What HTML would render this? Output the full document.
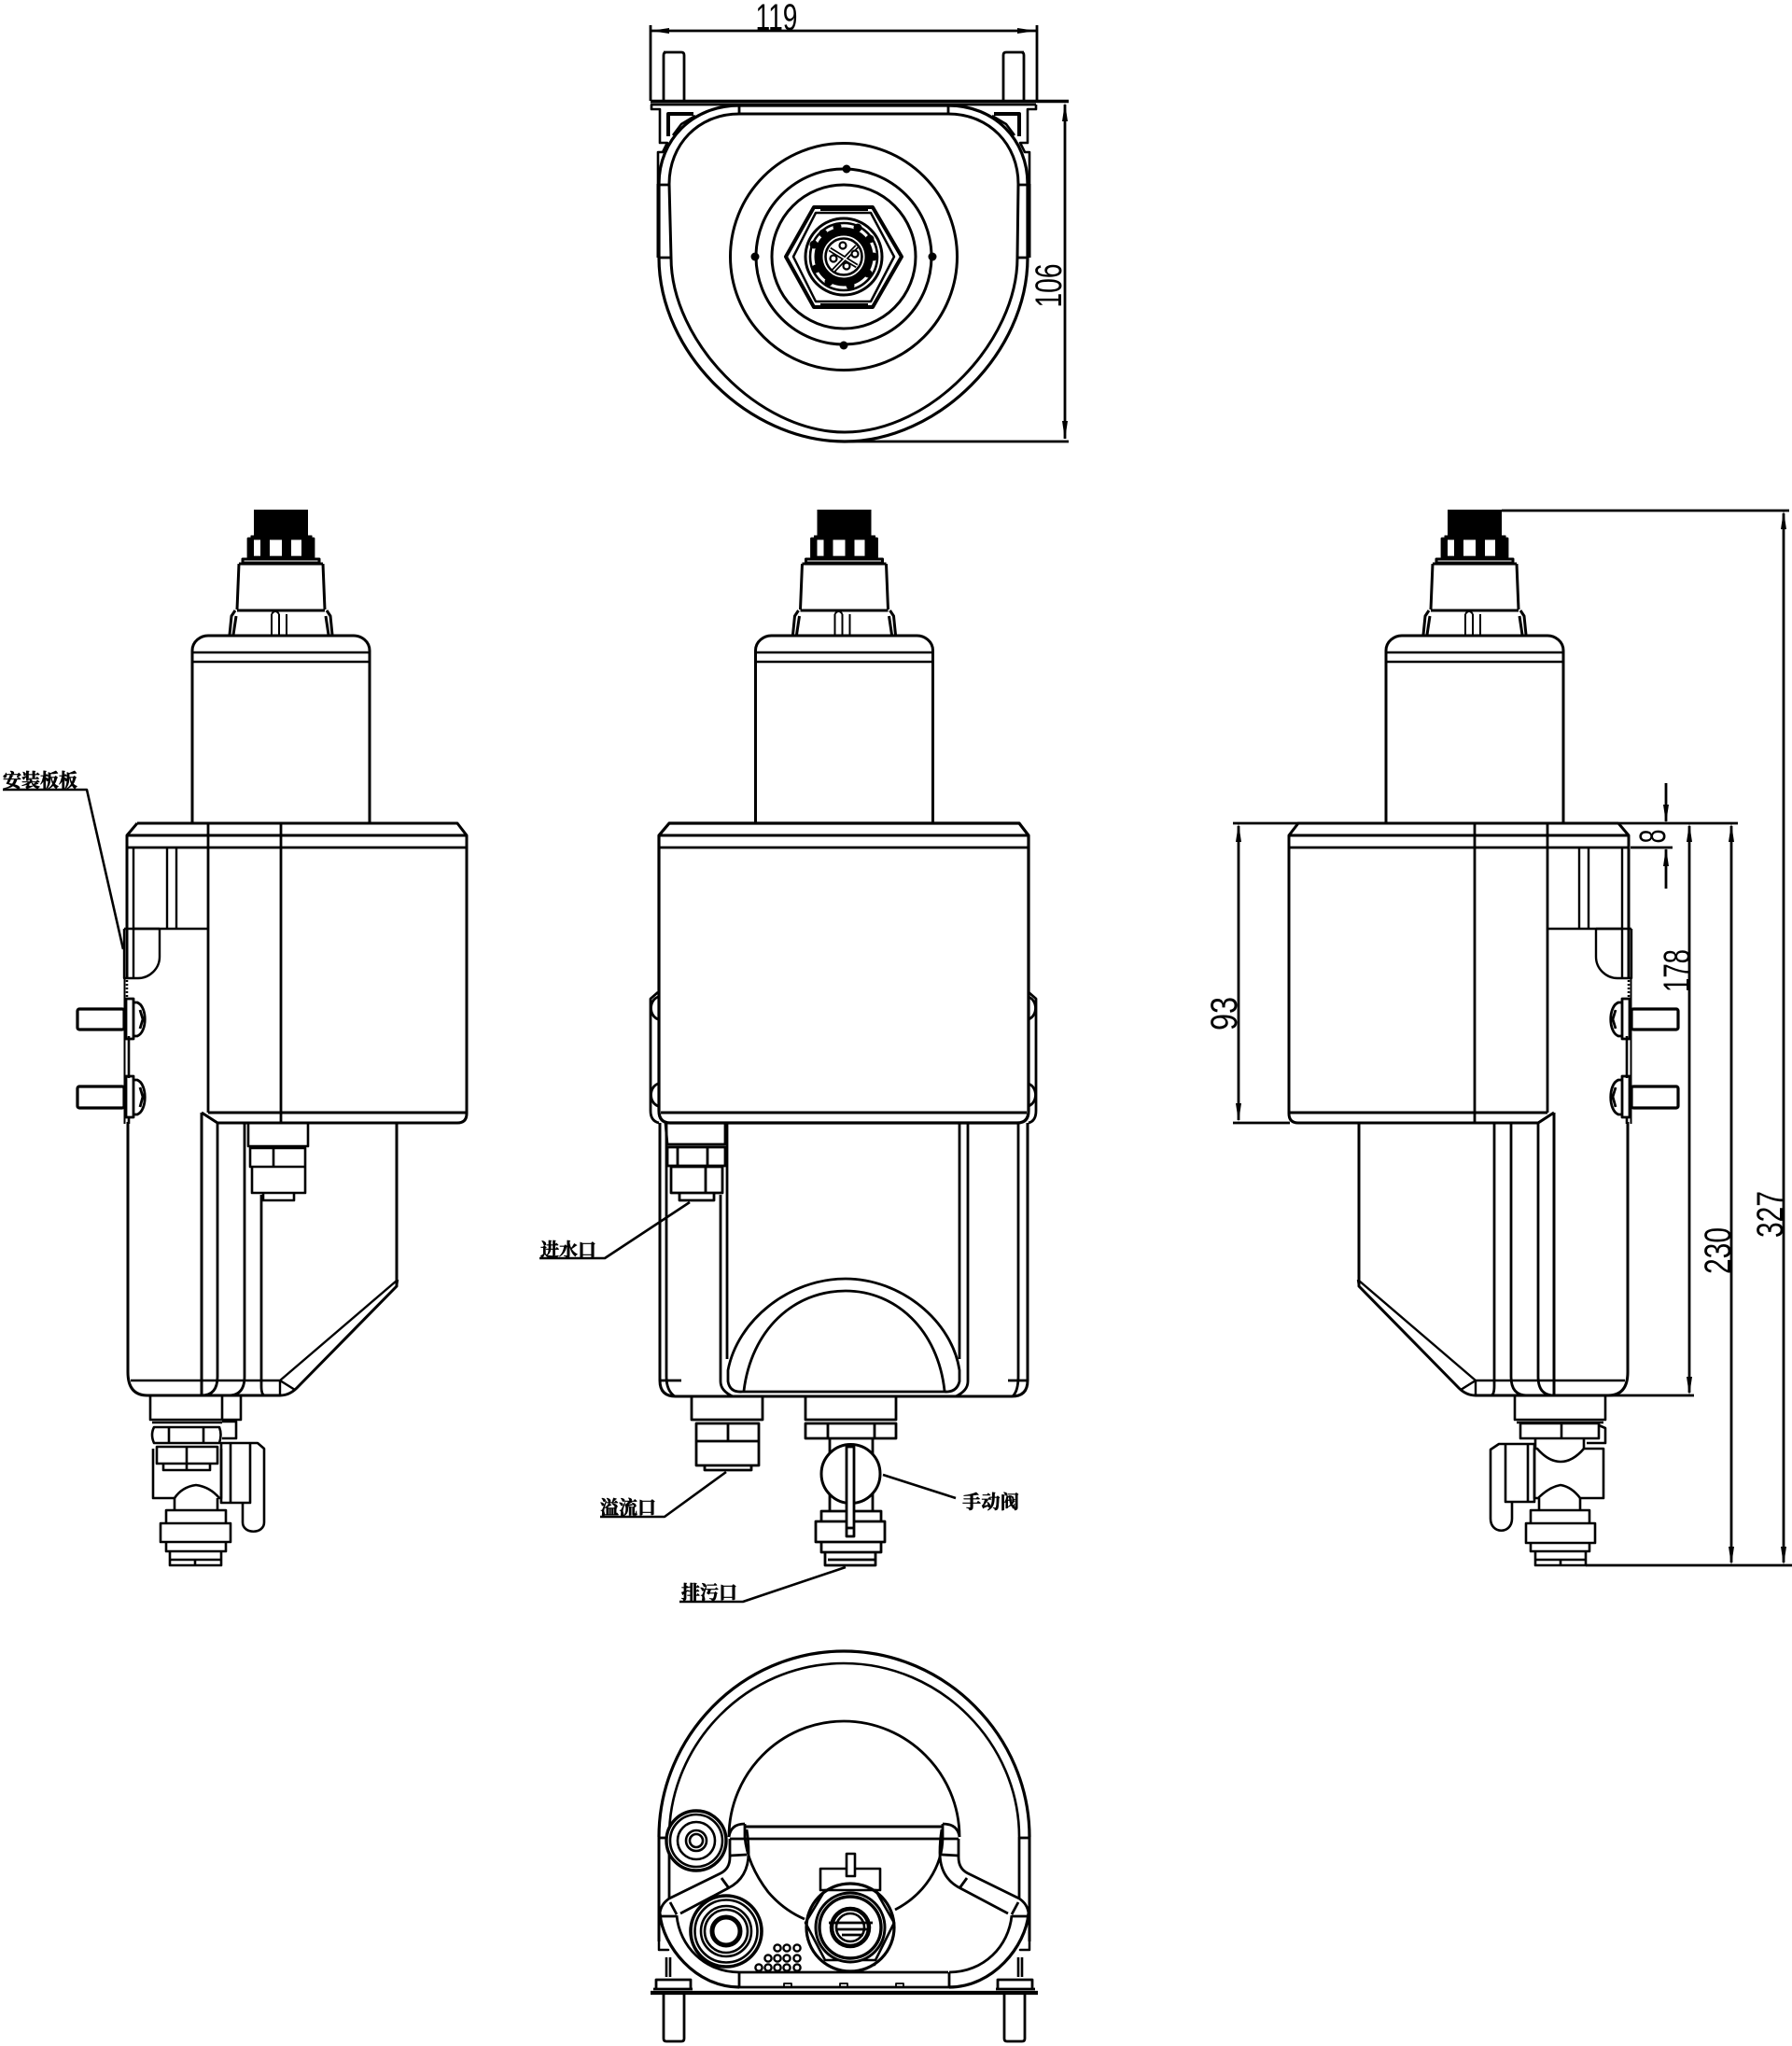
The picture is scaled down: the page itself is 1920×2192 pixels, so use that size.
<!DOCTYPE html>
<html><head><meta charset="utf-8"><title>Dimension drawing</title>
<style>html,body{margin:0;padding:0;background:#fff}svg{display:block}
.d{font-family:"Liberation Sans",sans-serif;font-size:40px;fill:#000;text-anchor:middle}
.c{font-family:"Liberation Serif","Noto Serif CJK SC",serif;font-size:20px;font-weight:700;fill:#000;stroke:#000;stroke-width:.6}
</style></head><body>
<svg xmlns="http://www.w3.org/2000/svg" width="1920" height="2192" viewBox="0 0 1920 2192" fill="none" stroke="#000" stroke-width="2.8" stroke-linejoin="round">
<defs>
<g id="top">
 <rect x="-29" y="546" width="58" height="28" fill="#000" stroke="none"/>
 <path d="M-32 578V574H33V578" fill="#000" stroke-width="1"/>
 <rect x="-35" y="577" width="70" height="20"/>
 <path d="M-35 578h6v18h-6zM-22 578h10v18h-10zM1 578h10v18H1zM22 578h13v18H22z" fill="#000" stroke="none"/>
 <path d="M-41 603V599H41V603ZM-45 604H45M-45 604L-47 653M45 604L47 653" stroke-width="3"/>
 <path d="M-47 654H47M-55 680L-53 660L-49 654M55 680L53 660L49 654M-51 680L-48 660M51 680L48 660" stroke-width="3"/>
 <path d="M-10 680V658M-2 680V658M6 680V658M-10 658Q-6 652 -2 658" stroke-width="2"/>
 <path d="M-95 882V697C-95 687 -86 681 -78 681H78C86 681 95 687 95 697V882" stroke-width="3"/>
 <path d="M-95 699H95M-95 709H95" stroke-width="2.5"/>
</g>
<g id="side">
 <path d="M147 882H490L500 895V1193Q500 1203 490 1203H233M147 882L136 895V1048" stroke-width="3"/>
 <path d="M136 895H500" stroke-width="3"/>
 <path d="M137 908H500M223 882V1192M301 882V1203" />
 <path d="M223 1192H500" stroke-width="3"/>
 <path d="M143 908V995M179 908V995M189 908V995M143 995H223" stroke-width="2.4"/>
 <path d="M133 995V1048H148C160 1048 171 1038 171 1025V995M143 995V1048M133 995H171" stroke-width="2.4"/>
 <path d="M133.5 1048V1204" stroke-width="2"/>
 <path d="M138 1110V1155M138 1197V1204" stroke-width="2.6"/>
 <path d="M136 1050V1070" stroke-width="2.5" stroke-dasharray="2 2"/>
 <rect x="83" y="1081" width="50" height="22" rx="2" stroke-width="3.2"/>
 <rect x="83" y="1164" width="50" height="23" rx="2" stroke-width="3.2"/>
 <path d="M135 1070H143V1113H135ZM143 1074H147C158 1078 158 1106 147 1110H143M150 1082L153 1092L150 1102"/>
 <path d="M135 1153H143V1197H135ZM143 1157H147C158 1161 158 1190 147 1194H143M150 1165L153 1175L150 1186"/>
 <path d="M216 1192V1495M216 1192L233 1203" stroke-width="3"/>
 <path d="M233 1203V1475Q233 1495 216 1495"/>
 <path d="M262 1203V1475Q262 1495 245 1495"/>
 <path d="M137 1202V1470Q137 1495 158 1495H300Q310 1495 318 1487L425 1378V1203" stroke-width="3"/>
 <path d="M140 1479H300L425 1372M300 1479V1495M300 1479L316 1489M426 1371L425 1378" stroke-width="2.4"/>
</g>
<g id="bottomSide">
 <path d="M706 2080V1968" stroke-width="3"/>
 <path d="M717 2034V1968"/>
 <path d="M706 1969H716"/>
 <path d="M717 2034L772 2007Q782 2002 782 1990V1970"/>
 <path d="M729 2050L780 2023Q802 2012 802 1985Q802 1972 800 1960"/>
 <path d="M773 2012L781 2023M782 1988L800 1987M718 2038L725 2051M707 2053H725"/>
 <path d="M707 2050Q708 2040 717 2034"/>
 <path d="M707 2050C710 2085 745 2129 792 2129" stroke-width="3.2"/>
 <path d="M725 2052C728 2085 755 2113 792 2113"/>
 <path d="M792 2113V2129"/>
 <path d="M706 2080V2089H716L708 2089" stroke-width="2.5"/>
 <path d="M714 2097V2118M718 2097V2118" stroke-width="2.6"/>
 <path d="M703 2131V2121H740V2131M700 2131H742" stroke-width="2.8"/>
 <path d="M711 2137V2184Q711 2187 714 2187H730Q733 2187 733 2184V2137"/>
</g>
<g id="topSide">
 <path d="M698 112V117H707V153H715L710 163H705V197" stroke-width="2.6"/>
 <path d="M705 197V276" stroke-width="3"/>
 <path d="M716 146V122H743" stroke-width="4"/>
 <path d="M721 145L730 133L745 124" stroke-width="2.6"/>
 <path d="M711 56H730Q733 56 733 59V108M711 108V59Q711 56 714 56" stroke-width="2.8"/>
 <path d="M706 198H717M706 276H718"/>
 <path d="M792 113V122"/>
</g>
</defs>
<rect x="-5" y="-5" width="1930" height="2202" fill="#fff" stroke="none"/>

<!-- TOP VIEW -->
<path d="M697 27V108M1111 27V108M697 33H1110M697 112H1110" />
<path d="M697 108.5H1145" stroke-width="3.6"/>
<path d="M697 33L717 30V36ZM1110 33L1090 30V36Z" fill="#000" stroke="none"/>
<use href="#topSide"/>
<use href="#topSide" transform="translate(1808,0) scale(-1,1)"/>
<path d="M792 113C742 113 706 150 706 197V276C706 378 802 473 905 473C1005 473 1101 378 1101 276V197C1101 150 1066 113 1016 113H792Z" stroke-width="3.2"/>
<path d="M792 122C748 122 717 155 717 197L719 276C719 365 812 463 905 463C998 463 1090 365 1090 276L1091 197C1091 155 1060 122 1016 122H792Z" stroke-width="3"/>
<path d="M1145 473H905M1141 112V470" />
<path d="M1141 110L1138 130H1144ZM1141 471L1138 451H1144Z" fill="#000" stroke="none"/>
<text class="d" transform="translate(1137,306) rotate(-90)" font-size="38" textLength="47" lengthAdjust="spacingAndGlyphs" stroke="none">106</text>
<text class="d" x="832" y="32" textLength="45" lengthAdjust="spacingAndGlyphs" stroke="none">119</text>
<g stroke-width="3">
 <circle cx="904" cy="275" r="121.5"/><circle cx="904" cy="275" r="94"/><circle cx="904" cy="275" r="77"/>
 <path d="M842 275L872 222H935L966 275L935 329H872Z" stroke-width="4"/>
 <path d="M850 275L874 228H933L958 275L933 323H874Z" stroke-width="2.5"/>
 <path d="M879 225H930M879 326H930" stroke-width="2"/>
 <circle cx="904" cy="275" r="41" stroke-width="3" fill="#fff"/><circle cx="904" cy="275" r="36" stroke-width="2.6"/>
 <circle cx="904" cy="275" r="27" stroke-width="9"/>
 <circle cx="904" cy="275" r="19.5" stroke-width="2.6"/>
 <path d="M889 267L918 285M918 264L893 290" stroke-width="5"/>
 <path d="M889 267L918 285M918 264L893 290" stroke="#fff" stroke-width="1.6"/>
</g>
<g fill="#000" stroke="none">
 <circle cx="907" cy="181" r="4.5"/><circle cx="904" cy="370" r="4.5"/><circle cx="809" cy="275" r="4.5"/><circle cx="999" cy="275" r="4.5"/>
 <circle cx="897" cy="243" r="4.5"/><circle cx="919" cy="244" r="4.5"/><circle cx="932" cy="256" r="4.5"/><circle cx="936" cy="275" r="4.5"/><circle cx="930" cy="293" r="4.5"/><circle cx="911" cy="306" r="4.5"/><circle cx="888" cy="302" r="4.5"/><circle cx="874" cy="288" r="4.5"/><circle cx="872" cy="262" r="4.5"/><circle cx="882" cy="250" r="4.5"/>
</g>
<g fill="#fff" stroke-width="2.2"><circle cx="903" cy="263" r="3.5"/><circle cx="916" cy="272" r="3.5"/><circle cx="907" cy="285" r="3.5"/><circle cx="893" cy="277" r="3.5"/></g>

<!-- TOPS -->
<use href="#top" transform="translate(301,0)"/>
<use href="#top" transform="translate(904.5,0)"/>
<use href="#top" transform="translate(1580,0)"/>

<!-- LEFT + RIGHT SIDE VIEWS -->
<use href="#side"/>
<use href="#side" transform="translate(1881,0) scale(-1,1)"/>
<path d="M1601 1203V1485Q1601 1495 1597 1495"/>

<!-- Left upper nut -->
<path d="M280 1280V1485Q280 1495 284 1495"/>
<path d="M266 1203V1228H330V1203M268 1230H327V1250H268ZM293 1230V1250M270 1250H327V1278H270ZM282 1279V1286H315V1279M262 1203V1205" stroke-width="2.6"/>

<!-- Left bottom fittings -->
<g stroke-width="2.6">
 <path d="M161 1496V1521H258V1496M238 1496V1521M163 1524H238"/>
 <path d="M238 1523H253V1541H238"/>
 <path d="M165 1529H235Q238 1537 235 1546H165Q161 1537 165 1529ZM181 1529V1546M218 1529V1546"/>
 <path d="M168 1550H233V1568H168ZM200 1550V1575M175 1568V1575H225V1568"/>
 <path d="M164 1552V1605H187Q195 1593 210 1591Q225 1593 235 1605H237V1552" />
 <path d="M187 1605V1618M233 1605V1618"/>
 <path d="M178 1618H242V1632H178ZM172 1632H247V1652H172ZM178 1652H242V1662H178ZM182 1662H237V1677H182ZM182 1671H237M209 1671V1677"/>
 <path d="M237 1546H268V1610H237ZM247 1546V1610M268 1546H276L283 1552V1631C283 1644 260 1644 260 1631V1610"/>
</g>

<!-- Right bottom fittings -->
<g stroke-width="2.6">
 <path d="M1623 1496V1521H1720V1496M1625 1524H1718"/>
 <path d="M1629 1525H1713V1541H1629ZM1673 1525V1541M1713 1527L1720 1530V1546H1700"/>
 <path d="M1644 1552V1605H1648Q1660 1593 1672 1591Q1684 1593 1693 1605H1718V1552H1697Q1685 1566 1672 1566Q1659 1566 1647 1552Z"/>
 <path d="M1649 1605V1618M1693 1605V1618M1645 1541V1552M1697 1541V1552"/>
 <path d="M1640 1618H1703V1632H1640ZM1635 1632H1709V1653H1635ZM1640 1653H1703V1662H1640ZM1645 1662H1699V1677H1645ZM1645 1671H1699M1672 1671V1677"/>
 <path d="M1613 1547H1644V1609H1613ZM1637 1547V1609M1613 1547H1606L1597 1553V1627C1597 1644 1620 1644 1620 1627V1609"/>
</g>

<!-- MIDDLE VIEW -->
<g>
 <path d="M717 882H1092L1102 895V1190Q1102 1203 1090 1203H718Q706 1203 706 1190V895Z" stroke-width="3.2"/>
 <path d="M707 895H1102" stroke-width="3"/>
 <path d="M707 908H1102" />
 <path d="M708 1192H1100" stroke-width="3"/>
 <path d="M697 1190V1070L705 1063M697 1190Q697 1201 706 1203M1110 1190V1070L1102 1063M1110 1190Q1110 1201 1102 1203"/>
 <path d="M705 1068C695 1072 695 1088 705 1092M705 1161C695 1165 695 1181 705 1185M1102 1068C1112 1072 1112 1088 1102 1092M1102 1161C1112 1165 1112 1181 1102 1185"/>
 <path d="M707 1203V1479Q707 1496 724 1496H1084Q1101 1496 1101 1479V1203" stroke-width="3"/>
 <path d="M707 1479H730M1080 1479H1101M714 1203V1475Q714 1490 723 1496M1091 1203V1475Q1091 1490 1085 1496"/>
 <path d="M772 1280V1480Q772 1490 785 1496M779 1203V1456M1028 1203V1456M1037 1203V1480Q1037 1490 1024 1496"/>
 <path d="M780 1480V1468C790 1415 845 1370 906 1370C965 1370 1020 1415 1028 1468V1480Q1025 1492 1012 1491H795Q782 1492 780 1480Z"/>
 <path d="M797 1490C805 1425 850 1383 906 1383C960 1383 1005 1425 1012 1490"/>
 <path d="M713 1203L715 1226H777V1203M715 1229H777V1249H715ZM726 1229V1249M758 1229V1249M719 1250H774V1278H719ZM756 1250V1278M728 1279V1286H765V1279" />
 <path d="M741 1497V1521H817V1497M746 1525H813V1544H746ZM780 1525V1544M746 1544H813V1570H746ZM755 1570V1575H805V1570" />
 <path d="M863 1497V1521H960V1497M863 1525H960V1541H863ZM887 1525V1541M937 1525V1541"/>
 <path d="M889 1541V1619M935 1541V1619"/>
 <path d="M880 1619H944V1630H880ZM874 1630H948V1652H874ZM880 1652H944V1663H880ZM884 1663H938V1677H884ZM887 1671H938"/>
 <circle cx="911.5" cy="1579" r="31.5" fill="#fff" stroke-width="3"/>
 <rect x="907" y="1550" width="8" height="96" fill="#fff"/>
 <path d="M907 1637H915" />
</g>

<!-- Labels -->
<g stroke-width="2.6">
 <path d="M3 846H93L132 1017"/>
 <path d="M578 1348H648L739 1288"/>
 <path d="M643 1625H712L778 1577"/>
 <path d="M1024 1605L946 1580"/>
 <path d="M728 1716H796L906 1679"/>
</g>
<text class="c" x="3" y="843" textLength="80">安装板板</text>
<text class="c" x="579" y="1346" textLength="60">进水口</text>
<text class="c" x="643" y="1622" textLength="60">溢流口</text>
<text class="c" x="1031" y="1616" textLength="61">手动阀</text>
<text class="c" x="730" y="1713" textLength="60">排污口</text>

<!-- Right dimensions -->
<path d="M1609 547H1917M1321 882H1862M1321 1203H1382M1700 1495H1815M1699 1677H1920M1747 908H1792"/>
<path d="M1911 550V1674M1855 885V1674M1810 885V1492M1327 885V1200M1785 839V880M1785 910V952"/>
<g fill="#000" stroke="none">
 <path d="M1911 547L1908 567H1914ZM1911 1677L1908 1657H1914Z"/>
 <path d="M1855 882L1852 902H1858ZM1855 1677L1852 1657H1858Z"/>
 <path d="M1810 882L1807 902H1813ZM1810 1495L1807 1475H1813Z"/>
 <path d="M1327 882L1324 902H1330ZM1327 1202L1324 1182H1330Z"/>
 <path d="M1785 882L1782 862H1788ZM1785 908L1782 928H1788Z"/>
</g>
<g stroke="none">
<text class="d" transform="translate(1325,1086) rotate(-90)" textLength="36" lengthAdjust="spacingAndGlyphs">93</text>
<text class="d" transform="translate(1784,896) rotate(-90)" textLength="15" lengthAdjust="spacingAndGlyphs">8</text>
<text class="d" transform="translate(1810,1040) rotate(-90)" textLength="46" lengthAdjust="spacingAndGlyphs">178</text>
<text class="d" transform="translate(1854,1340) rotate(-90)" textLength="50" lengthAdjust="spacingAndGlyphs">230</text>
<text class="d" transform="translate(1910,1301) rotate(-90)" textLength="50" lengthAdjust="spacingAndGlyphs">327</text>
</g>

<!-- BOTTOM VIEW -->
<g>
 <path d="M706 1968C706 1860 795 1769 904 1769C1013 1769 1103 1860 1103 1968" stroke-width="3.2"/>
 <path d="M717 1968C717 1868 800 1782 904 1782C1008 1782 1092 1868 1092 1968" stroke-width="2.6"/>
 <use href="#bottomSide"/>
 <use href="#bottomSide" transform="translate(1809,0) scale(-1,1)"/>
 <path d="M781 1968C781 1900 836 1844 904 1844C972 1844 1028 1900 1028 1968"/>
 <path d="M798 1957H1010" stroke-width="3"/>
 <path d="M782 1970H1027" />
 <path d="M798 1954Q783 1954 781 1968M1010 1954Q1026 1954 1028 1968"/>
 <path d="M798 1954V1968C800 1990 810 2010 823 2027C835 2041 848 2050 862 2056M1010 1954V1968C1010 2000 990 2030 959 2046"/>
 <path d="M792 2113H1016" />
 <path d="M792 2129H1017" stroke-width="2.8"/>
 <path d="M697 2135H1112" stroke-width="4.2"/>
 <path d="M840 2129V2125H848V2129M900 2129V2125H908V2129M960 2129V2125H968V2129" stroke-width="1.8"/>
 <g fill="#fff" stroke-width="2.6">
  <circle cx="746" cy="1972" r="32" stroke-width="3.4"/><circle cx="746" cy="1972" r="28"/>
  <circle cx="746" cy="1972" r="20"/><circle cx="746" cy="1972" r="11"/><circle cx="746" cy="1972" r="7"/>
  <circle cx="778" cy="2069" r="38" stroke-width="3.6"/><circle cx="778" cy="2069" r="33.5"/>
  <circle cx="778" cy="2069" r="27"/><circle cx="778" cy="2069" r="23"/><circle cx="778" cy="2069" r="15" stroke-width="5"/>
  <rect x="879" y="2002" width="64" height="23"/>
  <rect x="886" y="2083" width="51" height="22"/>
  <circle cx="911" cy="2065" r="47" stroke-width="3.2"/>
  <path d="M863 2060L884 2025H938L958 2060L938 2100H884Z" fill="none"/>
  <circle cx="911" cy="2065" r="37" stroke-width="3"/><circle cx="911" cy="2065" r="33" stroke-width="3.4"/>
  <circle cx="911" cy="2065" r="20" stroke-width="4.5"/><circle cx="911" cy="2065" r="15"/>
  <rect x="907" y="1986" width="9" height="24"/>
 </g>
 <path d="M888 2060H935M895 2067H932M902 2073H925"/>
 <g stroke-width="2.4">
  <circle cx="833" cy="2087" r="3.6"/><circle cx="843" cy="2087" r="3.6"/><circle cx="854" cy="2087" r="3.6"/>
  <circle cx="823" cy="2098" r="3.6"/><circle cx="833" cy="2098" r="3.6"/><circle cx="843" cy="2098" r="3.6"/><circle cx="854" cy="2098" r="3.6"/>
  <circle cx="813" cy="2108" r="3.6"/><circle cx="823" cy="2108" r="3.6"/><circle cx="833" cy="2108" r="3.6"/><circle cx="843" cy="2108" r="3.6"/><circle cx="854" cy="2108" r="3.6"/>
 </g>
</g>
</svg>
</body></html>
